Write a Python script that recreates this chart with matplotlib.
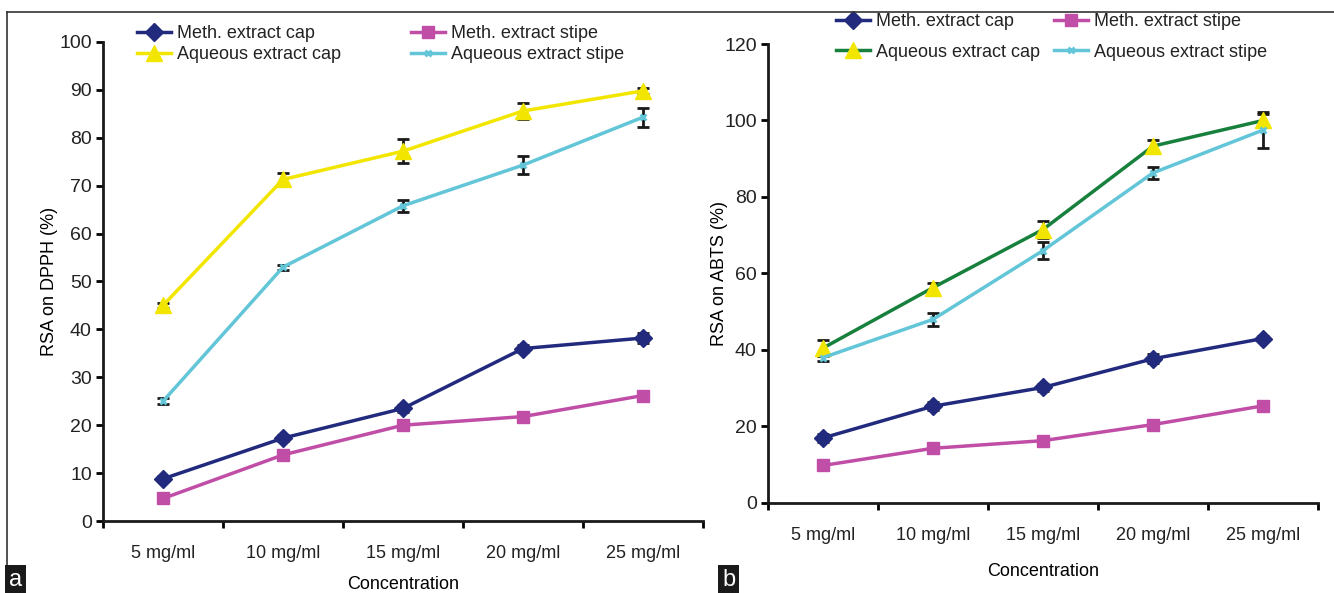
import matplotlib.pyplot as plt
import numpy as np

concs = ["5 mg/ml", "10 mg/ml", "15 mg/ml", "20 mg/ml", "25 mg/ml"]

# panel a: RSA on DPPH (%)
dpph_meth_cap = [8.8, 17.3, 23.5, 36.0, 38.2]
dpph_meth_cap_err = [0.5, 0.6, 0.7, 0.8, 1.0]
dpph_meth_stipe = [4.7, 13.8, 20.0, 21.8, 26.2]
dpph_meth_stipe_err = [0.4, 0.5, 0.5, 0.7, 0.8]
dpph_aq_cap = [45.0, 71.3, 77.2, 85.6, 89.8]
dpph_aq_cap_err = [0.6, 1.3, 2.5, 1.6, 0.6]
dpph_aq_stipe = [25.0, 53.0, 65.8, 74.3, 84.3]
dpph_aq_stipe_err = [0.6, 0.5, 1.2, 1.8, 2.0]

# panel b: RSA on ABTS (%)
abts_meth_cap = [17.0, 25.3, 30.2, 37.7, 43.0]
abts_meth_cap_err = [1.0, 1.0, 1.0, 1.2, 0.6]
abts_meth_stipe = [9.8, 14.3, 16.3, 20.5, 25.4]
abts_meth_stipe_err = [0.6, 0.7, 0.6, 0.7, 0.8]
abts_aq_cap = [40.5, 56.3, 71.5, 93.3, 100.0]
abts_aq_cap_err = [2.0, 1.3, 2.2, 1.7, 1.8]
abts_aq_stipe = [38.0, 48.0, 66.0, 86.3, 97.5]
abts_aq_stipe_err = [1.0, 1.7, 2.3, 1.5, 4.6]

NAVY = "#222a7e"
MAGENTA = "#c04ea6"
YELLOW = "#f2e600"
GREEN = "#16803c"
CYAN = "#62c6d8"

plt.rcParams["font.family"] = ["Liberation Sans", "DejaVu Sans"]
plt.rcParams["text.color"] = "#222222"

fig = plt.figure(figsize=(13.34, 5.93), dpi=100)


def panel(rect, series, ylim, yticks, ylabel, aq_cap_line, ylab_x, xlab_pad):
    ax = fig.add_axes(rect)
    x = np.arange(len(concs))
    styles = [
        (NAVY, NAVY, "D", 9, "Meth. extract cap"),
        (MAGENTA, MAGENTA, "s", 9, "Meth. extract stipe"),
        (aq_cap_line, YELLOW, "^", 11, "Aqueous extract cap"),
        (CYAN, CYAN, "x", 5, "Aqueous extract stipe"),
    ]
    handles = []
    for (vals, errs), (lc, mc, mk, ms, lab) in zip(series, styles):
        ax.errorbar(x, vals, yerr=errs, fmt="none", ecolor="#1a1a1a",
                    elinewidth=2, capsize=4, capthick=2, zorder=2)
        h, = ax.plot(x, vals, color=lc, lw=2.5, marker=mk, ms=ms,
                     mfc=mc, mec=mc, mew=2 if mk == "x" else 1, label=lab, zorder=3)
        handles.append(h)
    ax.set_xlim(-0.5, len(concs) - 0.5)
    ax.set_ylim(*ylim)
    ax.set_yticks(yticks)
    ax.set_xticks(np.arange(len(concs) + 1) - 0.5)
    ax.set_xticklabels([])
    ax.set_xticks(x, minor=True)
    ax.set_xticklabels(concs, minor=True, fontsize=13, color="#222222")
    ax.tick_params(axis="x", which="minor", length=0, pad=17)
    ax.tick_params(axis="x", which="major", length=5, width=2, direction="out")
    ax.tick_params(axis="y", length=5, width=2, direction="out", pad=3,
                   labelsize=14, labelcolor="#222222")
    for s in ["top", "right"]:
        ax.spines[s].set_visible(False)
    for s in ["left", "bottom"]:
        ax.spines[s].set_linewidth(2)
        ax.spines[s].set_color("#1a1a1a")
    ax.set_xlabel("Concentration", fontsize=13, labelpad=xlab_pad)
    ax.set_ylabel(ylabel, fontsize=13)
    ax.yaxis.set_label_coords(ylab_x, 0.5)
    return ax, handles


ax1, h1 = panel([0.0772, 0.1214, 0.4498, 0.8078],
                [(dpph_meth_cap, dpph_meth_cap_err), (dpph_meth_stipe, dpph_meth_stipe_err),
                 (dpph_aq_cap, dpph_aq_cap_err), (dpph_aq_stipe, dpph_aq_stipe_err)],
                (0, 100), np.arange(0, 101, 10), "RSA on DPPH (%)", YELLOW, -0.075, 10)
ax2, h2 = panel([0.5757, 0.1518, 0.4123, 0.774],
                [(abts_meth_cap, abts_meth_cap_err), (abts_meth_stipe, abts_meth_stipe_err),
                 (abts_aq_cap, abts_aq_cap_err), (abts_aq_stipe, abts_aq_stipe_err)],
                (0, 120), np.arange(0, 121, 20), "RSA on ABTS (%)", GREEN, -0.073, 14)

legend_specs = [
    (ax1, h1, (137 / 1334, 1 - 25 / 593), 3.9, 0.22),
    (ax2, h2, (836 / 1334, 1 - 13 / 593), 0.8, 0.75),
]
for ax, h, anchor, spacing, lsp in legend_specs:
    order = [h[0], h[2], h[1], h[3]]
    ax.legend(order, [o.get_label() for o in order],
              ncol=2, loc="upper left", bbox_to_anchor=anchor, bbox_transform=fig.transFigure,
              frameon=False, handlelength=1.9, handletextpad=0.3, columnspacing=spacing,
              labelspacing=lsp, borderaxespad=0, borderpad=0, fontsize=13)

# outer frame lines (top and left)
fig.add_artist(plt.Line2D([7 / 1334, 1], [1 - 12 / 593, 1 - 12 / 593], color="#333333", lw=1.2))
fig.add_artist(plt.Line2D([7 / 1334, 7 / 1334], [1 - 12 / 593, 1 - 568 / 593], color="#333333", lw=1.2))

# panel letters
fig.text(9 / 1334, 2 / 593, "a", color="white", fontsize=17, ha="left", va="bottom",
         bbox=dict(facecolor="#1a1a1a", edgecolor="none", boxstyle="square,pad=0.15"))
fig.text(722 / 1334, 2 / 593, "b", color="white", fontsize=17, ha="left", va="bottom",
         bbox=dict(facecolor="#1a1a1a", edgecolor="none", boxstyle="square,pad=0.15"))

fig.savefig("out.png", dpi=100)
